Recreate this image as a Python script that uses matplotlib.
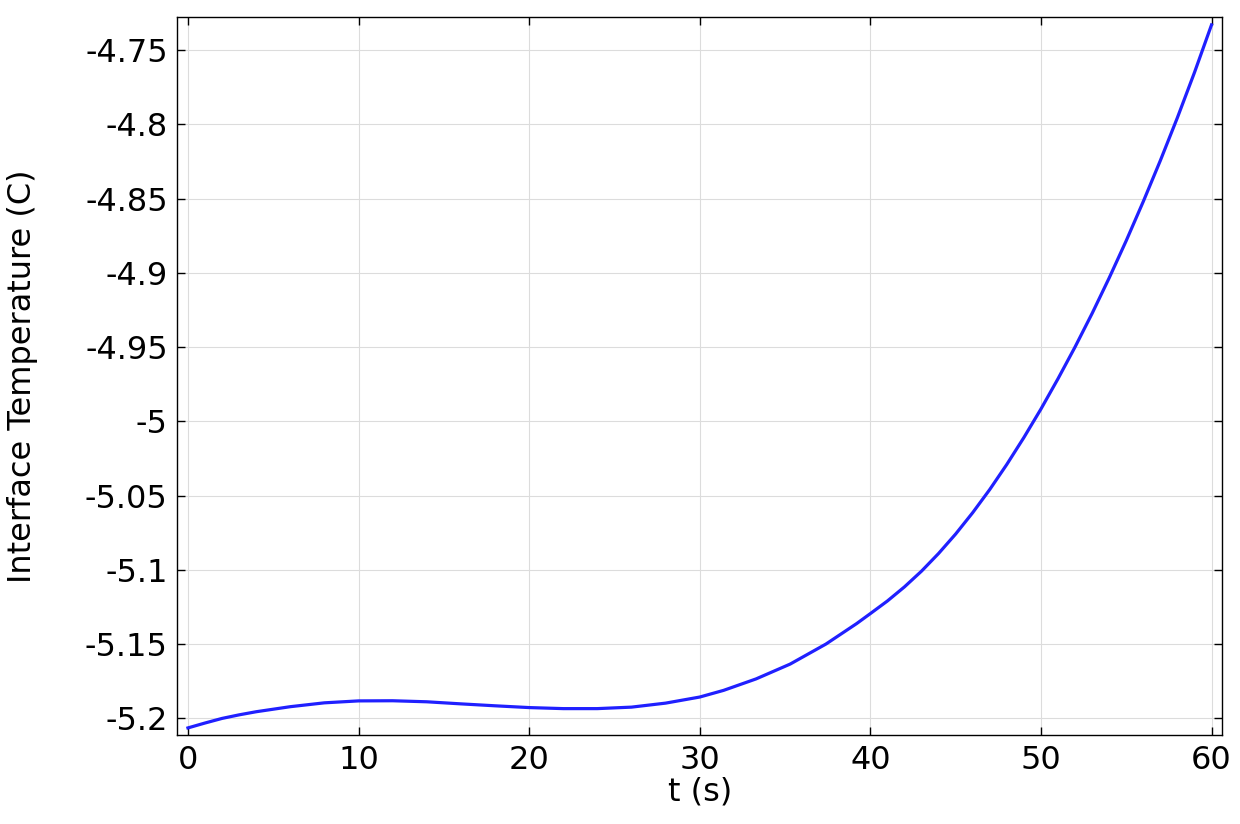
import numpy as np
import matplotlib.pyplot as plt

plt.rcParams['font.family'] = 'DejaVu Sans'
plt.rcParams['axes.unicode_minus'] = False

# time (s) and interface temperature (C)
t = [0, 1, 2, 3, 4, 6, 8, 10, 12, 14, 16, 18, 20, 22, 24, 26, 28, 30,
     31.4, 33.3, 35.3, 37.4, 39.2, 40, 41, 42, 43, 44, 45, 46, 47, 48, 49,
     50, 51, 52, 53, 54, 55, 56, 57, 58, 59, 60]
temp = [-5.2065, -5.2032, -5.2001, -5.1977, -5.1956, -5.1922, -5.1896, -5.1883,
        -5.1882, -5.1889, -5.1903, -5.1916, -5.1928, -5.1935, -5.1935, -5.1925,
        -5.1898, -5.1857, -5.1812, -5.1735, -5.1635, -5.1500, -5.1362, -5.1295,
        -5.1210, -5.1115, -5.1009, -5.0890, -5.0759, -5.0615, -5.0459, -5.0290,
        -5.0109, -4.9917, -4.9713, -4.9499, -4.9273, -4.9034, -4.8783, -4.8519,
        -4.8243, -4.7954, -4.7650, -4.7329]

xticks = [0, 10, 20, 30, 40, 50, 60]
yticks = [-4.75, -4.8, -4.85, -4.9, -4.95, -5, -5.05, -5.1, -5.15, -5.2]

fig = plt.figure(figsize=(12.4, 8.24), dpi=100)
ax = fig.add_axes([0.1431, 0.1076, 0.8426, 0.8714])

ax.plot(t, temp, color='#2020ff', linewidth=2.3, solid_joinstyle='round')

ax.set_xlim(-0.615, 60.63)
ax.set_ylim(-5.2115, -4.7278)
ax.set_xticks(xticks)
ax.set_yticks(yticks)
ax.set_xticklabels([str(v) for v in xticks])
ax.set_yticklabels(['%g' % v for v in yticks])

ax.grid(True, color='#dcdcdc', linewidth=0.8)
ax.tick_params(direction='in', length=5.5, width=1, top=True, right=True,
               labelsize=23, pad=7, colors='black')
for s in ax.spines.values():
    s.set_linewidth(1)

ax.set_xlabel('t (s)', fontsize=23, labelpad=0)
ax.set_ylabel('Interface Temperature (C)', fontsize=23, labelpad=34)

plt.savefig('out.png', dpi=100)
